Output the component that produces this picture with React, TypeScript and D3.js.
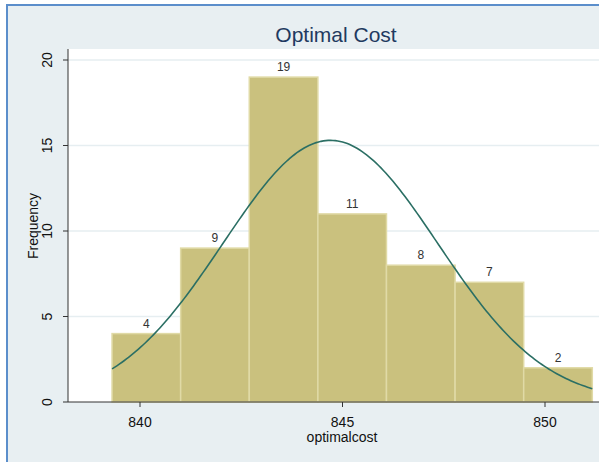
import * as React from "react";
import * as d3 from "d3";

// histogram of optimalcost with fitted normal overlay
const binStart = 839.31;
const binWidth = 1.694;
const counts = [4, 9, 19, 11, 8, 7, 2];
const yTicks = [0, 5, 10, 15, 20];
const xTicks = [840, 845, 850];
const fitMean = 844.7;
const fitSd = 2.65;

const W = 599;
const H = 462;

export default function App() {
  const n = d3.sum(counts);
  const binEnd = binStart + binWidth * counts.length;

  const x = d3.scaleLinear().domain([840, 850]).range([140, 545]);
  const y = d3.scaleLinear().domain([0, 20]).range([402, 60]);

  const plotLeft = 68;
  const plotTop = 49;
  const plotBottom = 402;

  const bins = counts.map((c, i) => ({
    x0: binStart + i * binWidth,
    x1: binStart + (i + 1) * binWidth,
    count: c,
  }));

  const dens = (v: number) =>
    (n * binWidth * Math.exp(-0.5 * ((v - fitMean) / fitSd) ** 2)) / (fitSd * Math.sqrt(2 * Math.PI));
  const curvePts = d3.range(0, 201).map((i) => binStart + ((binEnd - binStart) * i) / 200);
  const line = d3
    .line<number>()
    .x((v) => x(v))
    .y((v) => y(dens(v)));

  const font = "'Liberation Sans', Arial, sans-serif";

  return (
    <svg
      width={W}
      height={H}
      style={{ position: "absolute", left: 0, top: 0, fontFamily: font }}
    >
      <rect x={0} y={0} width={W} height={H} fill="#ffffff" />
      <rect x={7} y={5} width={W} height={H} fill="#e8eff2" />
      <line x1={7} x2={7} y1={4} y2={H} stroke="#5b8ecb" strokeWidth={2} />
      <line x1={6} x2={W} y1={5} y2={5} stroke="#5b8ecb" strokeWidth={2} />

      <text x={336} y={42} textAnchor="middle" fontSize={21} fill="#1f3a60">
        Optimal Cost
      </text>

      <rect x={plotLeft} y={plotTop} width={W} height={plotBottom - plotTop} fill="#ffffff" />

      {yTicks.filter((t) => t > 0).map((t) => (
        <line key={t} x1={plotLeft} x2={W} y1={y(t)} y2={y(t)} stroke="#e6eef1" strokeWidth={1.5} />
      ))}

      {bins.map((b, i) => (
        <rect
          key={i}
          x={x(b.x0)}
          y={y(b.count)}
          width={x(b.x1) - x(b.x0)}
          height={plotBottom - y(b.count)}
          fill="#cac17e"
          stroke="#e0daa6"
          strokeWidth={1.5}
        />
      ))}

      {bins.map((b, i) => (
        <text
          key={i}
          x={(x(b.x0) + x(b.x1)) / 2}
          y={y(b.count) - 6}
          textAnchor="middle"
          fontSize={12}
          fill="#333333"
        >
          {b.count}
        </text>
      ))}

      <path d={line(curvePts) ?? ""} fill="none" stroke="#2b6f64" strokeWidth={1.6} />

      <line x1={plotLeft} x2={plotLeft} y1={plotTop} y2={plotBottom} stroke="#333" strokeWidth={1} />
      <line x1={plotLeft} x2={W} y1={plotBottom} y2={plotBottom} stroke="#333" strokeWidth={1} />

      {yTicks.map((t) => (
        <g key={t}>
          <line x1={plotLeft - 5} x2={plotLeft} y1={y(t)} y2={y(t)} stroke="#333" />
          <text
            transform={`translate(52,${y(t)}) rotate(-90)`}
            textAnchor="middle"
            fontSize={14}
            fill="#111"
          >
            {t}
          </text>
        </g>
      ))}

      {xTicks.map((t) => (
        <g key={t}>
          <line x1={x(t)} x2={x(t)} y1={plotBottom} y2={plotBottom + 5} stroke="#333" />
          <text x={x(t)} y={427} textAnchor="middle" fontSize={14} fill="#111">
            {t}
          </text>
        </g>
      ))}

      <text x={342} y={442} textAnchor="middle" fontSize={14} fill="#111">
        optimalcost
      </text>
      <text
        transform={`translate(38,${226}) rotate(-90)`}
        textAnchor="middle"
        fontSize={14}
        fill="#111"
      >
        Frequency
      </text>
    </svg>
  );
}
